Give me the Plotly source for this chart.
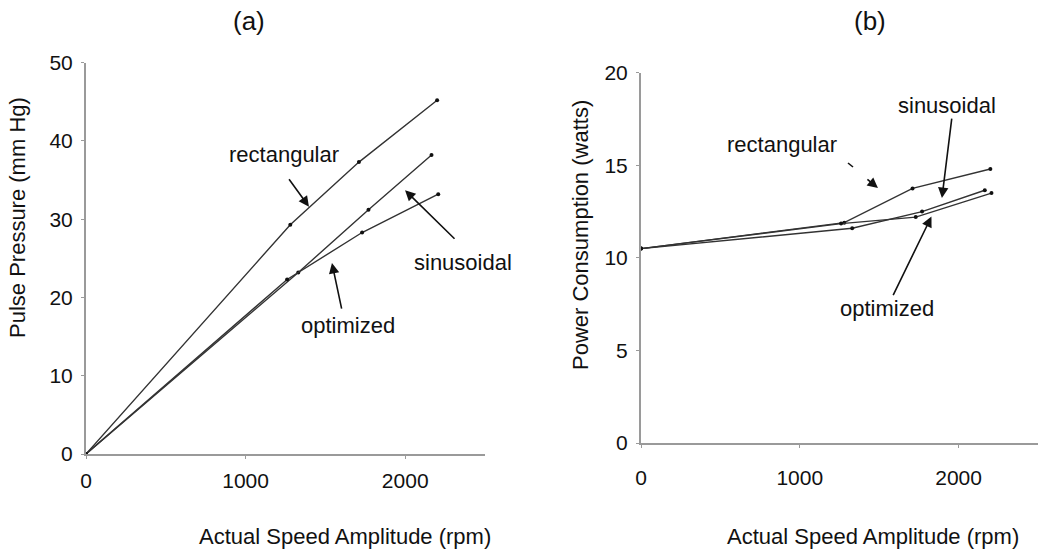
import plotly.graph_objects as go

# ---- data ----
rect_x = [0, 1280, 1710, 2200]
sin_x = [0, 1330, 1770, 2165]
opt_x = [0, 1260, 1730, 2207]

rect_pp = [0, 29.3, 37.3, 45.2]
sin_pp = [0, 23.2, 31.2, 38.2]
opt_pp = [0, 22.3, 28.3, 33.2]

rect_pw = [10.5, 11.9, 13.75, 14.8]
sin_pw = [10.5, 11.6, 12.5, 13.65]
opt_pw = [10.5, 11.85, 12.2, 13.5]

x_ticks = [0, 1000, 2000]
pp_ticks = [0, 10, 20, 30, 40, 50]
pw_ticks = [0, 5, 10, 15, 20]

W, H = 1050, 557
FONT = "Liberation Sans, Arial, sans-serif"
LINE = "#333333"
AX = "#9a9a9a"

fig = go.Figure()
line_style = dict(color=LINE, width=1.4)
mk = dict(size=4, color="#111111")
for xs, ys in [(rect_x, rect_pp), (sin_x, sin_pp), (opt_x, opt_pp)]:
    fig.add_trace(go.Scatter(x=xs, y=ys, mode="lines+markers", line=line_style,
                             marker=mk, xaxis="x", yaxis="y", showlegend=False))
for xs, ys in [(rect_x, rect_pw), (sin_x, sin_pw), (opt_x, opt_pw)]:
    fig.add_trace(go.Scatter(x=xs, y=ys, mode="lines+markers", line=line_style,
                             marker=mk, xaxis="x2", yaxis="y2", showlegend=False))

def px(v):
    return v / W

def py(v):
    return 1 - v / H

axis_common = dict(showgrid=False, zeroline=False, showline=True, linecolor=AX,
                   linewidth=2, ticks="outside", ticklen=3, tickcolor=AX,
                   automargin=False,
                   tickfont=dict(family=FONT, size=21, color="#111111"))

fig.update_layout(
    width=W, height=H, margin=dict(l=0, r=0, t=0, b=0, autoexpand=False),
    paper_bgcolor="white", plot_bgcolor="white",
    font=dict(family=FONT, color="#111111"),
    xaxis=dict(domain=[px(86), px(485)], range=[0, 2500], tickvals=x_ticks,
               anchor="y", ticklabelstandoff=4, **axis_common),
    yaxis=dict(domain=[py(454), py(62.7)], range=[0, 50], tickvals=pp_ticks,
               anchor="x", ticklabelstandoff=4, **axis_common),
    xaxis2=dict(domain=[px(641), px(1038)], range=[0, 2500], tickvals=x_ticks,
                anchor="y2", ticklabelstandoff=12, **axis_common),
    yaxis2=dict(domain=[py(443), py(72.7)], range=[0, 20], tickvals=pw_ticks,
                anchor="x2", ticklabelstandoff=4, **axis_common),
)

txt = dict(family=FONT, size=22, color="#111111")
C = dict(xanchor="center", yanchor="middle")
anns = []
# panel titles
anns.append(dict(text="(a)", x=px(249), y=py(21), xref="paper", yref="paper",
                 showarrow=False, font=dict(family=FONT, size=26, color="#111111"), **C))
anns.append(dict(text="(b)", x=px(870), y=py(21), xref="paper", yref="paper",
                 showarrow=False, font=dict(family=FONT, size=26, color="#111111"), **C))
# axis titles
for cx in (345, 873):
    anns.append(dict(text="Actual Speed Amplitude (rpm)", x=px(cx), y=py(536),
                     xref="paper", yref="paper", showarrow=False, font=txt, **C))
anns.append(dict(text="Pulse Pressure (mm Hg)", x=px(18), y=py(218), xref="paper",
                 yref="paper", showarrow=False, textangle=-90, font=txt, **C))
anns.append(dict(text="Power Consumption (watts)", x=px(580), y=py(235), xref="paper",
                 yref="paper", showarrow=False, textangle=-90, font=txt, **C))

# labels (a)
for t, x, y in [("rectangular", 1241, 38.3), ("sinusoidal", 2362, 24.5), ("optimized", 1642, 16.4)]:
    anns.append(dict(text=t, x=x, y=y, xref="x", yref="y", showarrow=False, font=txt, **C))
# labels (b)
for t, x, y in [("rectangular", 888, 16.14), ("sinusoidal", 1927, 18.25), ("optimized", 1549, 7.24)]:
    anns.append(dict(text=t, x=x, y=y, xref="x2", yref="y2", showarrow=False, font=txt, **C))

arrow = dict(showarrow=True, arrowhead=2, arrowsize=1.3, arrowwidth=1.6,
             arrowcolor="#111111", text="", axref="pixel", ayref="pixel")
# arrows (a)
for x, y, ax, ay in [(1397, 31.6, -21, -29), (1999, 33.7, 51, 50), (1541, 24.4, 10, 47)]:
    anns.append(dict(x=x, y=y, xref="x", yref="y", ax=ax, ay=ay, **arrow))
# arrows (b)
for x, y, ax, ay in [(1492, 13.77, -12, -10), (1895, 13.23, 10, -81), (1829, 12.23, -39, 80)]:
    anns.append(dict(x=x, y=y, xref="x2", yref="y2", ax=ax, ay=ay, **arrow))

fig.update_layout(annotations=anns)
fig.add_shape(type="line", xref="paper", yref="paper", x0=px(848), y0=py(163),
              x1=px(853), y1=py(167), line=dict(color="#111111", width=1.6))

fig.write_html("out.html", config={"displayModeBar": False},
               post_script="document.body.style.margin='0px';document.body.style.overflow='hidden';")
